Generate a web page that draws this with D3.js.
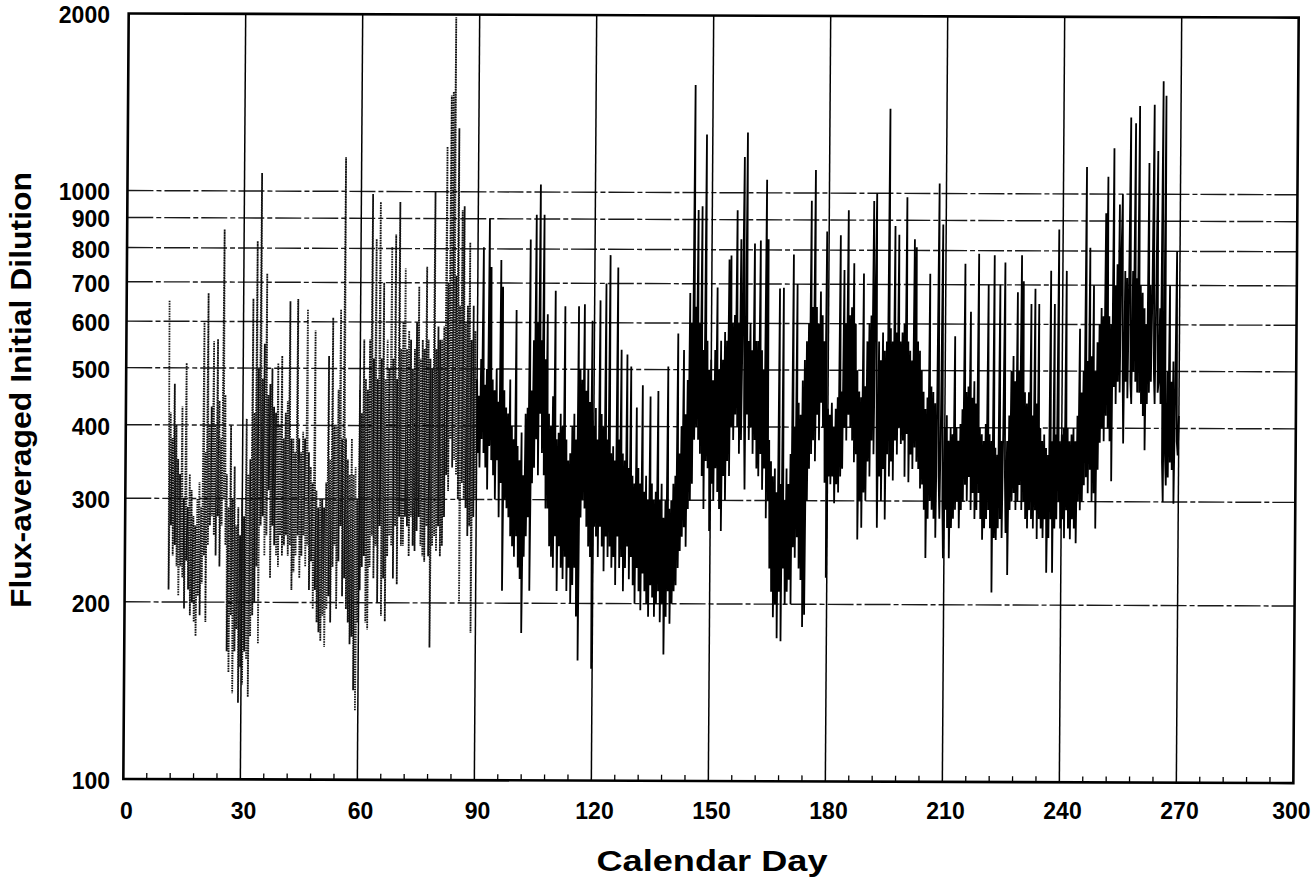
<!DOCTYPE html>
<html>
<head>
<meta charset="utf-8">
<script src="https://cdn.jsdelivr.net/npm/d3@7"></script>
<style>
  body { margin: 0; background: #fff; }
  text { font-family: "Liberation Sans", Arial, sans-serif; font-weight: bold; fill: #000; }
</style>
</head>
<body>
<svg id="chart" width="1313" height="881"></svg>
<script>
// Flux-averaged initial dilution, sampled every 6 hours (4 values per day).
const sampleStep = 0.25;

// First period (dotted trace), starting on day 11
const dottedStart = 11;
const dottedValues = [
  650,210,420,270, 380,240,470,250, 400,230,350,205, 330,230,430,220, 300,195,510,235,
  290,210,330,190, 310,200,280,185, 270,175,300,205, 320,190,290,215, 600,240,360,185,
  670,250,400,270, 430,280,555,260, 400,240,560,280, 440,230,380,270, 860,300,450,250,
  330,165,290,152, 400,190,300,140, 340,165,270,180, 290,135,260,155, 300,145,280,165,
  410,160,330,138, 350,175,656,190, 420,200,822,230, 500,170,1073,270, 480,280,550,240,
  724,260,450,310, 470,220,500,270, 430,250,420,240, 510,230,400,260, 525,240,380,250,
  420,260,440,240, 650,250,380,210, 380,225,360,240, 656,260,380,220, 360,240,390,260,
  380,230,630,250, 360,210,340,235, 320,195,580,210, 310,185,290,178, 300,172,300,190,
  290,168,320,195, 525,205,350,185, 610,230,400,250, 400,195,460,235, 630,270,380,205,
  1143,220,380,195, 350,185,330,170, 380,175,330,142, 340,131,300,185, 460,210,420,230,
  560,240,480,185, 460,180,560,230, 990,260,520,220, 830,250,480,200, 960,270,520,190,
  700,220,480,186, 560,240,500,260, 805,250,520,220, 845,270,480,215, 960,280,540,250,
  600,250,740,280, 540,270,580,240, 560,280,500,250, 540,245,600,265, 690,280,520,250,
  560,240,540,235, 745,270,560,240, 520,168,500,250, 1000,260,540,245, 590,270,560,240,
  560,250,590,280, 1193,330,700,310, 1457,380,1480,340, 1980,350,720,330, 1282,300,640,200,
  930,320,945,300, 600,290,640,260, 820,270,560,178, 640,280,580,300, 480
];

// Second period (solid trace), starting on day 90
const solidStart = 90;
const solidValues = [
  480,360,450,340, 520,380,805,360, 470,340,500,312, 900,370,745,350, 480,330,460,300,
  500,350,440,280, 766,320,690,210, 460,300,430,290, 420,280,480,260, 400,250,380,240,
  630,260,370,230, 350,220,390,178, 330,240,420,260, 430,280,830,210, 460,320,560,340,
  915,380,600,330, 1030,420,560,360, 915,330,520,290, 620,290,420,250, 400,240,450,230,
  680,260,380,210, 390,250,420,230, 400,220,640,240, 380,210,350,230, 360,200,400,215,
  420,230,380,190, 640,160,500,280, 480,300,645,290, 460,270,500,250, 440,240,605,155,
  400,270,430,260, 380,240,655,270, 420,250,400,227, 700,260,380,240, 782,250,360,230,
  370,240,350,215, 745,260,380,230, 540,240,360,210, 350,230,530,250, 340,220,506,240,
  330,215,320,200, 431,230,340,210, 320,195,470,225, 310,210,330,200, 300,190,450,215,
  320,205,300,190, 310,200,460,210, 300,186,320,200, 280,164,300,190, 506,210,290,185,
  300,200,320,210, 330,215,576,230, 360,246,400,260, 540,270,420,250, 480,290,675,300,
  600,320,1524,380, 640,400,934,380, 600,360,948,330, 540,290,1256,350, 560,340,500,266,
  520,320,480,300, 540,340,690,310, 500,290,560,266, 520,330,580,300, 560,350,770,330,
  782,400,600,380, 620,420,934,400, 600,360,834,380, 620,1150,420,313, 1266,420,560,380,
  600,400,540,360, 820,380,560,340, 560,330,830,360, 540,313,500,340, 1053,280,834,300,
  380,230,350,210, 330,190,340,200, 310,175,688,210, 320,173,690,230, 300,200,340,210,
  320,220,360,200, 786,250,400,240, 700,260,440,230, 420,220,480,183, 520,192,560,300,
  600,340,970,360, 640,380,1094,350, 640,420,600,380, 680,440,620,400, 560,322,860,222,
  430,330,420,320, 440,330,400,297, 430,320,450,310, 848,330,460,340, 740,400,600,380,
  935,420,620,400, 640,380,760,349, 600,360,500,258, 460,300,450,270, 730,310,470,300,
  560,350,600,330, 620,380,970,360, 640,1000,400,270, 560,330,520,300, 580,340,540,279,
  560,360,1392,330, 590,350,560,325, 880,380,580,360, 850,400,560,375, 580,380,600,330,
  985,390,560,323, 540,360,520,340, 836,370,810,350, 560,340,540,315, 500,320,460,290,
  430,240,450,280, 730,300,470,290, 460,280,440,260, 430,1040,330,280, 420,886,300,240,
  400,290,420,270, 380,240,400,270, 390,280,572,290, 400,300,380,270, 406,290,430,300,
  760,320,460,300, 470,330,630,290, 450,310,480,280, 440,290,790,310, 400,280,390,258,
  380,270,406,280, 700,290,390,270, 380,210,786,260, 370,258,360,270, 700,280,380,260,
  400,764,330,265, 380,225,420,290, 500,300,530,310, 480,290,680,300, 500,320,786,290,
  710,300,460,280, 440,270,460,290, 650,280,420,270, 690,290,440,259, 650,280,400,270,
  380,260,390,280, 370,227,360,260, 740,280,380,227, 650,270,390,280, 870,300,380,270,
  390,280,400,260, 740,290,400,270, 380,259,390,280, 400,270,380,255, 420,300,590,290,
  460,300,500,320, 1111,330,520,310, 810,340,530,300, 700,310,500,270, 560,340,600,378,
  640,400,620,380, 928,420,1070,400, 620,380,600,325, 1197,470,700,440, 760,480,960,460,
  790,1000,500,377, 740,480,720,450, 700,1350,480,440, 740,500,1320,480, 720,460,1412,460,
  700,440,680,420, 640,367,600,440, 1130,460,700,480, 680,1420,500,440, 700,1185,460,480,
  640,440,1557,350, 300,1470,360,320, 500,330,700,350, 480,340,520,298, 450,800,380,360,
  420
];

// Axis ticks and grid
const xTickDays = [0, 30, 60, 90, 120, 150, 180, 210, 240, 270, 300];
const xGridDays = [30, 60, 90, 120, 150, 180, 210, 240, 270];
const xMinorDays = [6, 12, 18, 24, 36, 42, 48, 54, 66, 72, 78, 84, 96, 102, 108, 114,
  126, 132, 138, 144, 156, 162, 168, 174, 186, 192, 198, 204, 216, 222, 228, 234,
  246, 252, 258, 264, 276, 282, 288, 294];
const yTickValues = [100, 200, 300, 400, 500, 600, 700, 800, 900, 1000, 2000];
const yGridValues = [200, 300, 400, 500, 600, 700, 800, 900, 1000];

const svg = d3.select('#chart');
svg.append('rect').attr('width', 1313).attr('height', 881).attr('fill', '#fff');

const x = d3.scaleLinear().domain([0, 300]).range([126, 1296]);
const y = d3.scaleLog().domain([100, 2000]).range([781, 15.5]);

// plot body (the printed page sits very slightly askew)
const plot = svg.append('g').attr('transform', 'matrix(1,0.0036,-0.007,1,2.8,-2.52)');

plot.append('g').selectAll('line').data(yGridValues).join('line')
  .attr('x1', x(0)).attr('x2', x(300))
  .attr('y1', d => y(d)).attr('y2', d => y(d))
  .attr('stroke', '#1a1a1a').attr('stroke-width', 1.4)
  .attr('stroke-dasharray', '26,3,5,3');

plot.append('g').selectAll('line').data(xGridDays).join('line')
  .attr('x1', d => x(d)).attr('x2', d => x(d))
  .attr('y1', y(2000)).attr('y2', y(100))
  .attr('stroke', '#000').attr('stroke-width', 1.5);

plot.append('g').selectAll('line').data(xMinorDays).join('line')
  .attr('x1', d => x(d)).attr('x2', d => x(d))
  .attr('y1', y(100)).attr('y2', y(100) - 6)
  .attr('stroke', '#000').attr('stroke-width', 1.3);

const line = d3.line()
  .x(d => x(d.day))
  .y(d => y(d.value));

const dottedPts = dottedValues.map((v, i) => ({ day: dottedStart + i * sampleStep, value: v }));
const solidPts = solidValues.map((v, i) => ({ day: solidStart + i * sampleStep, value: v }));

plot.append('path').datum(dottedPts)
  .attr('d', line)
  .attr('fill', 'none').attr('stroke', '#111').attr('stroke-width', 1.8)
  .attr('stroke-dasharray', '1.5,1');

plot.append('path').datum(solidPts)
  .attr('d', line)
  .attr('fill', 'none').attr('stroke', '#000').attr('stroke-width', 1.8);

plot.append('rect')
  .attr('x', x(0)).attr('y', y(2000))
  .attr('width', x(300) - x(0)).attr('height', y(100) - y(2000))
  .attr('fill', 'none').attr('stroke', '#000').attr('stroke-width', 2.6);

// axes labels
const xAxis = d3.axisBottom(x).tickValues(xTickDays).tickSize(0).tickPadding(22).tickFormat(d3.format('d'));
const gx = svg.append('g').attr('transform', `translate(0,${y(100)})`).call(xAxis);
gx.select('.domain').remove();
gx.selectAll('text').style('font-size', '23px').style('font-family', '"Liberation Sans", Arial, sans-serif').style('font-weight', 'bold').attr('fill', '#000');
// keep the last label inside the page edge
gx.selectAll('.tick').filter(d => d === 300).select('text').attr('text-anchor', 'end').attr('x', 14);

const yAxis = d3.axisLeft(y).tickValues(yTickValues).tickSize(0).tickPadding(16).tickFormat(d3.format('d'));
const gy = svg.append('g').attr('transform', `translate(${x(0)},0)`).call(yAxis);
gy.select('.domain').remove();
gy.selectAll('text').style('font-size', '23px').style('font-family', '"Liberation Sans", Arial, sans-serif').style('font-weight', 'bold').attr('fill', '#000');

svg.append('text')
  .attr('x', 712).attr('y', 871)
  .attr('text-anchor', 'middle')
  .attr('textLength', 231).attr('lengthAdjust', 'spacingAndGlyphs')
  .style('font-size', '29px')
  .text('Calendar Day');

svg.append('text')
  .attr('transform', 'translate(31,390) rotate(-90)')
  .attr('text-anchor', 'middle')
  .attr('textLength', 436).attr('lengthAdjust', 'spacingAndGlyphs')
  .style('font-size', '29px')
  .text('Flux-averaged Initial Dilution');
</script>
</body>
</html>
